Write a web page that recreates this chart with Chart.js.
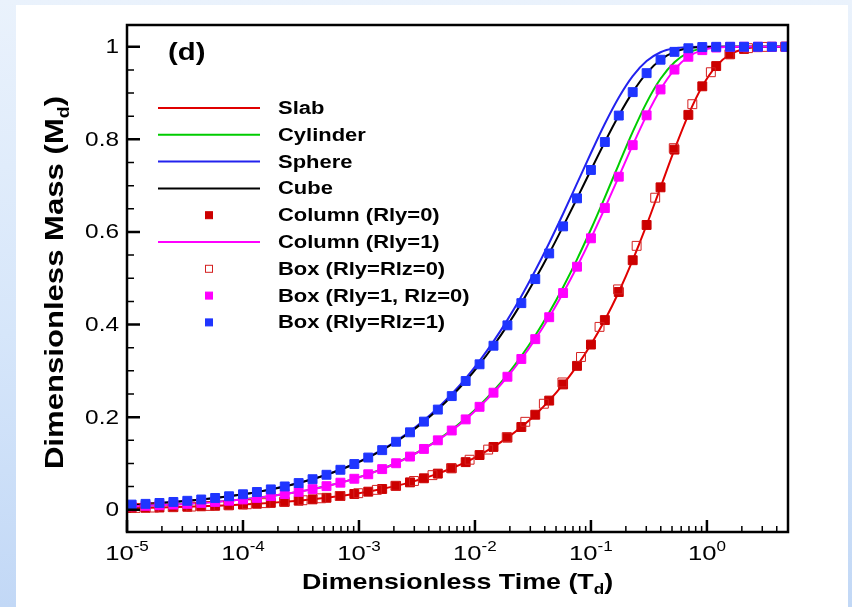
<!DOCTYPE html>
<html>
<head>
<meta charset="utf-8">
<script src="https://cdn.jsdelivr.net/npm/chart.js@4.4.0/dist/chart.umd.min.js"></script>
<style>
    html, body { margin: 0; padding: 0; }
    body {
        width: 852px; height: 607px; overflow: hidden; position: relative;
        background: linear-gradient(180deg, #eaf2fc 0%, #d6e6fa 55%, #c2d8f6 100%);
    }
    #panel { position: absolute; left: 16px; top: 5px; width: 832px; height: 602px; background: #fff; }
</style>
</head>
<body>
<div id="panel"><canvas id="release-chart" width="832" height="602"></canvas></div>
<script>
// dimensionless time of the sampled points
const tGrid = [1.096e-5, 1.445e-5, 1.905e-5, 2.512e-5, 3.311e-5, 4.365e-5, 5.754e-5, 7.586e-5,
    1.0e-4, 1.318e-4, 1.738e-4, 2.291e-4, 3.020e-4, 3.981e-4, 5.248e-4, 6.918e-4,
    9.120e-4, 1.202e-3, 1.585e-3, 2.089e-3, 2.754e-3, 3.631e-3, 4.786e-3, 6.310e-3,
    8.318e-3, 0.01096, 0.01445, 0.01905, 0.02512, 0.03311, 0.04365, 0.05754,
    0.07586, 0.1, 0.1318, 0.1738, 0.2291, 0.3020, 0.3981, 0.5248,
    0.6918, 0.9120, 1.202, 1.585, 2.089, 2.754, 3.631, 4.786];

const slab = [0.0037, 0.0043, 0.0049, 0.0057, 0.0065, 0.0075, 0.0086, 0.0098,
    0.0113, 0.0130, 0.0149, 0.0171, 0.0196, 0.0225, 0.0259, 0.0297,
    0.0341, 0.0391, 0.0449, 0.0516, 0.0592, 0.0680, 0.0781, 0.0896,
    0.1029, 0.1182, 0.1357, 0.1558, 0.1788, 0.2053, 0.2358, 0.2707,
    0.3108, 0.3568, 0.4097, 0.4703, 0.5390, 0.6151, 0.6964, 0.7779,
    0.8529, 0.9146, 0.9583, 0.9838, 0.9953, 0.9991, 0.9999, 1.0000];

const cylinder = [0.0075, 0.0086, 0.0098, 0.0113, 0.0130, 0.0149, 0.0171, 0.0196,
    0.0225, 0.0258, 0.0296, 0.0339, 0.0389, 0.0446, 0.0512, 0.0587,
    0.0672, 0.0770, 0.0882, 0.1010, 0.1157, 0.1323, 0.1513, 0.1729,
    0.1974, 0.2251, 0.2565, 0.2920, 0.3318, 0.3764, 0.4259, 0.4807,
    0.5408, 0.6058, 0.6749, 0.7462, 0.8160, 0.8794, 0.9308, 0.9667,
    0.9874, 0.9965, 0.9993, 0.9999, 1.0000, 1.0000, 1.0000, 1.0000];

const sphere = [0.0112, 0.0128, 0.0147, 0.0169, 0.0194, 0.0222, 0.0255, 0.0293,
    0.0336, 0.0385, 0.0441, 0.0506, 0.0579, 0.0664, 0.0760, 0.0870,
    0.0995, 0.1138, 0.1300, 0.1485, 0.1694, 0.1931, 0.2198, 0.2500,
    0.2838, 0.3216, 0.3636, 0.4101, 0.4612, 0.5167, 0.5763, 0.6394,
    0.7048, 0.7705, 0.8337, 0.8904, 0.9366, 0.9691, 0.9881, 0.9966,
    0.9993, 0.9999, 1.0000, 1.0000, 1.0000, 1.0000, 1.0000, 1.0000];

const cube = [0.0112, 0.0128, 0.0147, 0.0169, 0.0194, 0.0222, 0.0255, 0.0292,
    0.0335, 0.0384, 0.0440, 0.0504, 0.0577, 0.0660, 0.0756, 0.0864,
    0.0988, 0.1128, 0.1288, 0.1469, 0.1673, 0.1904, 0.2164, 0.2455,
    0.2781, 0.3142, 0.3543, 0.3983, 0.4463, 0.4982, 0.5536, 0.6121,
    0.6726, 0.7339, 0.7943, 0.8514, 0.9020, 0.9430, 0.9720, 0.9890,
    0.9968, 0.9994, 0.9999, 1.0000, 1.0000, 1.0000, 1.0000, 1.0000];

const columnRly0 = [0.0037, 0.0043, 0.0049, 0.0057, 0.0065, 0.0075, 0.0086, 0.0098,
    0.0113, 0.0130, 0.0149, 0.0171, 0.0196, 0.0225, 0.0259, 0.0297,
    0.0341, 0.0391, 0.0449, 0.0516, 0.0592, 0.0680, 0.0781, 0.0896,
    0.1029, 0.1182, 0.1357, 0.1558, 0.1788, 0.2053, 0.2358, 0.2707,
    0.3108, 0.3568, 0.4097, 0.4703, 0.5390, 0.6151, 0.6964, 0.7779,
    0.8529, 0.9146, 0.9583, 0.9838, 0.9953, 0.9991, 0.9999, 1.0000];

const columnRly1 = [0.0075, 0.0086, 0.0098, 0.0113, 0.0129, 0.0149, 0.0170, 0.0196,
    0.0224, 0.0257, 0.0295, 0.0339, 0.0388, 0.0445, 0.0510, 0.0585,
    0.0670, 0.0767, 0.0878, 0.1005, 0.1149, 0.1314, 0.1500, 0.1712,
    0.1952, 0.2224, 0.2529, 0.2873, 0.3257, 0.3685, 0.4159, 0.4681,
    0.5250, 0.5863, 0.6516, 0.7194, 0.7875, 0.8519, 0.9078, 0.9507,
    0.9784, 0.9927, 0.9983, 0.9997, 1.0000, 1.0000, 1.0000, 1.0000];

// the slab-like box was sampled on its own, coarser time grid
const tBox0 = [1.186e-5, 1.714e-5, 2.477e-5, 3.581e-5, 5.176e-5, 7.482e-5,
    1.081e-4, 1.563e-4, 2.259e-4, 3.266e-4, 4.721e-4, 6.823e-4,
    9.863e-4, 1.426e-3, 2.061e-3, 2.979e-3, 4.305e-3, 6.223e-3,
    8.995e-3, 0.01300, 0.01879, 0.02716, 0.03926, 0.05675,
    0.08204, 0.1186, 0.1714, 0.2477, 0.3581, 0.5176,
    0.7482, 1.081, 1.563, 2.259, 3.266, 4.721];

const boxRly0Rlz0 = [0.0040, 0.0048, 0.0057, 0.0069, 0.0083, 0.0099,
    0.0119, 0.0143, 0.0172, 0.0206, 0.0248, 0.0298,
    0.0358, 0.0430, 0.0517, 0.0622, 0.0748, 0.0899,
    0.1081, 0.1300, 0.1570, 0.1900, 0.2290, 0.2750,
    0.3300, 0.3950, 0.4760, 0.5700, 0.6740, 0.7810,
    0.8760, 0.9450, 0.9840, 0.9970, 0.9997, 1.0000];

const boxRly1Rlz0 = [0.0075, 0.0086, 0.0098, 0.0113, 0.0129, 0.0149, 0.0170, 0.0196,
    0.0224, 0.0257, 0.0295, 0.0339, 0.0388, 0.0445, 0.0510, 0.0585,
    0.0670, 0.0767, 0.0878, 0.1005, 0.1149, 0.1314, 0.1500, 0.1712,
    0.1952, 0.2224, 0.2529, 0.2873, 0.3257, 0.3685, 0.4159, 0.4681,
    0.5250, 0.5863, 0.6516, 0.7194, 0.7875, 0.8519, 0.9078, 0.9507,
    0.9784, 0.9927, 0.9983, 0.9997, 1.0000, 1.0000, 1.0000, 1.0000];

const boxRly1Rlz1 = [0.0112, 0.0128, 0.0147, 0.0169, 0.0194, 0.0222, 0.0255, 0.0292,
    0.0335, 0.0384, 0.0440, 0.0504, 0.0577, 0.0660, 0.0756, 0.0864,
    0.0988, 0.1128, 0.1288, 0.1469, 0.1673, 0.1904, 0.2164, 0.2455,
    0.2781, 0.3142, 0.3543, 0.3983, 0.4463, 0.4982, 0.5536, 0.6121,
    0.6726, 0.7339, 0.7943, 0.8514, 0.9020, 0.9430, 0.9720, 0.9890,
    0.9968, 0.9994, 0.9999, 1.0000, 1.0000, 1.0000, 1.0000, 1.0000];

const seriesLabels = ['Slab', 'Cylinder', 'Sphere', 'Cube', 'Column (Rly=0)', 'Column (Rly=1)',
    'Box (Rly=Rlz=0)', 'Box (Rly=1, Rlz=0)', 'Box (Rly=Rlz=1)'];

const xTickExponents = [-5, -4, -3, -2, -1, 0];
const yTickValues = [0, 0.2, 0.4, 0.6, 0.8, 1];
const yTickLabels = ['0', '0.2', '0.4', '0.6', '0.8', '1'];

const X_MIN = 1e-5, X_MAX = 5;
const Y_MIN = -0.048, Y_MAX = 1.047;

const FONT = '"Liberation Sans", Arial, Helvetica, sans-serif';
const STRETCH = 1.22;

function pts(xs, ys) {
    return xs.map((x, i) => ({x: x, y: ys[i]}));
}

function lineSet(label, xs, ys, color) {
    return {
        label: label, data: pts(xs, ys), showLine: true,
        borderColor: color, backgroundColor: color, borderWidth: 2,
        pointRadius: 0, cubicInterpolationMode: 'monotone', kind: 'line'
    };
}

function markSet(label, xs, ys, fill, stroke) {
    return {
        label: label, data: pts(xs, ys), showLine: false,
        pointStyle: 'rect', pointRadius: 6.3, borderWidth: 1,
        backgroundColor: fill, borderColor: stroke,
        pointBackgroundColor: fill, pointBorderColor: stroke, kind: 'mark'
    };
}

const datasets = [
    lineSet(seriesLabels[0], tGrid, slab, '#e00000'),
    lineSet(seriesLabels[1], tGrid, cylinder, '#00cc00'),
    lineSet(seriesLabels[2], tGrid, sphere, '#2222ee'),
    lineSet(seriesLabels[3], tGrid, cube, '#000000'),
    markSet(seriesLabels[4], tGrid, columnRly0, '#cc0000', '#cc0000'),
    lineSet(seriesLabels[5], tGrid, columnRly1, '#ff00ff'),
    markSet(seriesLabels[6], tBox0, boxRly0Rlz0, 'rgba(255,255,255,0)', '#d42020'),
    markSet(seriesLabels[7], tGrid, boxRly1Rlz0, '#ff00ff', '#ff00ff'),
    markSet(seriesLabels[8], tGrid, boxRly1Rlz1, '#1f35ff', '#1f35ff')
];
// later series sit on top, as in the legend order
datasets.forEach((d, i) => { d.order = datasets.length - 1 - i; });

// draws text stretched horizontally; returns drawn width
function wideText(ctx, str, x, y, font, align) {
    ctx.save();
    ctx.font = font;
    const w = ctx.measureText(str).width * STRETCH;
    const x0 = align === 'center' ? x - w / 2 : (align === 'right' ? x - w : x);
    ctx.translate(x0, y);
    ctx.scale(STRETCH, 1);
    ctx.textAlign = 'left';
    ctx.fillText(str, 0, 0);
    ctx.restore();
    return w;
}

function richWidth(ctx, parts) {
    let w = 0;
    parts.forEach(p => { ctx.font = p.font; w += ctx.measureText(p.text).width * STRETCH; });
    return w;
}

function richText(ctx, parts, x, y) {
    let cx = x - richWidth(ctx, parts) / 2;
    parts.forEach(p => { cx += wideText(ctx, p.text, cx, y + (p.dy || 0), p.font, 'left'); });
}

const frameAndTicks = {
    id: 'frameAndTicks',
    afterDatasetsDraw(chart) {
        const {ctx, chartArea: a, scales: {x, y}} = chart;
        ctx.save();
        ctx.strokeStyle = '#000';
        ctx.fillStyle = '#000';

        // inward minor ticks
        ctx.lineWidth = 1.5;
        ctx.beginPath();
        xTickExponents.forEach(e => {
            for (let m = 2; m <= 9; m++) {
                const v = m * Math.pow(10, e);
                if (v >= X_MAX) break;
                const px = x.getPixelForValue(v);
                ctx.moveTo(px, a.bottom);
                ctx.lineTo(px, a.bottom - 6);
            }
        });
        for (let k = 1; k < 20; k++) {
            if (k % 4 === 0) continue;
            const py = y.getPixelForValue(k * 0.05);
            ctx.moveTo(a.left, py);
            ctx.lineTo(a.left + 7, py);
        }
        ctx.stroke();

        // inward major ticks
        ctx.lineWidth = 2.5;
        ctx.beginPath();
        xTickExponents.forEach(e => {
            const px = x.getPixelForValue(Math.pow(10, e));
            ctx.moveTo(px, a.bottom);
            ctx.lineTo(px, a.bottom - 12);
        });
        yTickValues.forEach(v => {
            const py = y.getPixelForValue(v);
            ctx.moveTo(a.left, py);
            ctx.lineTo(a.left + 13, py);
        });
        ctx.stroke();

        // plot frame
        ctx.lineWidth = 2.5;
        ctx.strokeRect(a.left, a.top, a.right - a.left, a.bottom - a.top);

        // y tick labels
        ctx.textBaseline = 'middle';
        yTickValues.forEach((v, i) => {
            wideText(ctx, yTickLabels[i], a.left - 8, y.getPixelForValue(v) + 1, '20px ' + FONT, 'right');
        });

        // x tick labels with superscript exponent
        ctx.textBaseline = 'alphabetic';
        xTickExponents.forEach(e => {
            const px = x.getPixelForValue(Math.pow(10, e));
            richText(ctx, [
                {text: '10', font: '21px ' + FONT},
                {text: String(e), font: '14px ' + FONT, dy: -9}
            ], px, a.bottom + 28);
        });

        // axis titles
        richText(ctx, [
            {text: 'Dimensionless Time (T', font: 'bold 22px ' + FONT},
            {text: 'd', font: 'bold 14px ' + FONT, dy: 5},
            {text: ')', font: 'bold 22px ' + FONT}
        ], (a.left + a.right) / 2, a.bottom + 57);

        ctx.save();
        ctx.translate(a.left - 64, (a.top + a.bottom) / 2 + 4);
        ctx.rotate(-Math.PI / 2);
        richText(ctx, [
            {text: 'Dimensionless Mass (M', font: 'bold 25.5px ' + FONT},
            {text: 'd', font: 'bold 16px ' + FONT, dy: 6},
            {text: ')', font: 'bold 25.5px ' + FONT}
        ], 0, 0);
        ctx.restore();

        // panel tag
        wideText(ctx, '(d)', a.left + 41, a.top + 35, 'bold 24px ' + FONT, 'left');

        // legend inside the plot
        chart.data.datasets.forEach((ds, i) => {
            const cy = a.top + 83 + i * 26.8;
            if (ds.kind === 'line') {
                ctx.strokeStyle = ds.borderColor;
                ctx.lineWidth = 2;
                ctx.beginPath();
                ctx.moveTo(a.left + 31, cy);
                ctx.lineTo(a.left + 133, cy);
                ctx.stroke();
            } else {
                const s = 7;
                ctx.fillStyle = ds.backgroundColor;
                ctx.fillRect(a.left + 82 - s / 2, cy - s / 2, s, s);
                ctx.strokeStyle = ds.borderColor;
                ctx.lineWidth = 1;
                ctx.strokeRect(a.left + 82 - s / 2, cy - s / 2, s, s);
            }
            ctx.fillStyle = '#000';
            ctx.textBaseline = 'middle';
            wideText(ctx, ds.label, a.left + 151, cy + 1, 'bold 18px ' + FONT, 'left');
        });
        ctx.restore();
    }
};

const ctx = document.getElementById('release-chart').getContext('2d');
window.releaseChart = new Chart(ctx, {
    type: 'scatter',
    data: {datasets: datasets},
    options: {
        responsive: false,
        animation: false,
        layout: {padding: {left: 111, top: 20, right: 60, bottom: 75}},
        plugins: {legend: {display: false}, tooltip: {enabled: false}},
        scales: {
            x: {
                type: 'logarithmic', min: X_MIN, max: X_MAX,
                grid: {display: false, drawTicks: false},
                border: {display: false},
                ticks: {display: false},
                afterFit: s => { s.height = 0; }
            },
            y: {
                type: 'linear', min: Y_MIN, max: Y_MAX,
                grid: {display: false, drawTicks: false},
                border: {display: false},
                ticks: {display: false},
                afterFit: s => { s.width = 0; }
            }
        }
    },
    plugins: [frameAndTicks]
});
</script>
</body>
</html>
